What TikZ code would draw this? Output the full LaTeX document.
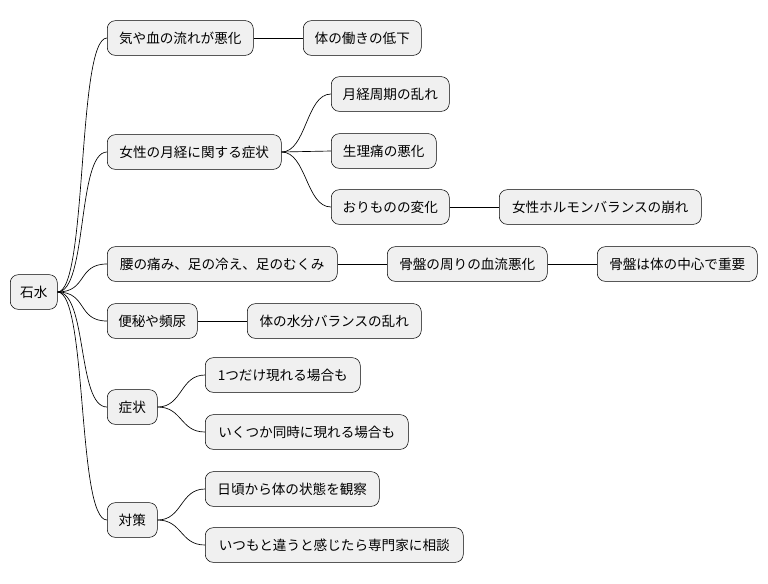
\documentclass[tikz,border=0pt]{standalone}
\usepackage{fontspec}
\setmainfont{Noto Sans CJK JP}
\begin{document}
\begin{tikzpicture}[x=0.75pt,y=-0.75pt,
  topic/.style={draw=black, fill=black!6, rounded corners=6pt, anchor=west,
    minimum height=26pt, inner xsep=0pt, font=\fontsize{10.2}{12}\selectfont},
  link/.style={draw=black, line width=0.5pt}]
\useasboundingbox (0,0) rectangle (768,583);
%root
\node[topic, minimum width=35.25pt] (root) at (10,292) {石水};
%level 1
\foreach \name/\x/\y/\w/\txt in {
  ki/107/38/146/気や血の流れが悪化,
  gekkei/107/152/174/女性の月経に関する症状,
  koshi/107/264/230/腰の痛み、足の冷え、足のむくみ,
  benpi/107/321/90/便秘や頻尿,
  shojo/107/407/50/症状,
  taisaku/107/520/50/対策}{
  \node[topic, minimum width=\w*0.75pt] (\name) at (\x,\y) {\txt};
  \draw[link] (root.east) .. controls +(30,0) and +(-30,0) .. (\name.west);
}
%level 2
\foreach \parent/\name/\x/\y/\w/\txt in {
  ki/hataraki/303/38/118/体の働きの低下,
  gekkei/shuki/331/94/118/月経周期の乱れ,
  gekkei/seiri/331/151/105/生理痛の悪化,
  gekkei/orimono/331/207/118/おりものの変化,
  koshi/kotsuban/387/264/160/骨盤の周りの血流悪化,
  benpi/suibun/247/321/174/体の水分バランスの乱れ,
  shojo/hitotsu/205/375/155/1つだけ現れる場合も,
  shojo/ikutsu/205/432/203/いくつか同時に現れる場合も,
  taisaku/higoro/205/489/174/日頃から体の状態を観察,
  taisaku/itsumo/205/545/258/いつもと違うと感じたら専門家に相談}{
  \node[topic, minimum width=\w*0.75pt] (\name) at (\x,\y) {\txt};
  \draw[link] (\parent.east) .. controls +(25,0) and +(-25,0) .. (\name.west);
}
%level 3
\node[topic, minimum width=151.5pt] (hormone) at (499,207) {女性ホルモンバランスの崩れ};
\node[topic, minimum width=120pt] (chushin) at (597,264) {骨盤は体の中心で重要};
\draw[link] (orimono.east) -- (hormone.west);
\draw[link] (kotsuban.east) -- (chushin.west);
\end{tikzpicture}
\end{document}
